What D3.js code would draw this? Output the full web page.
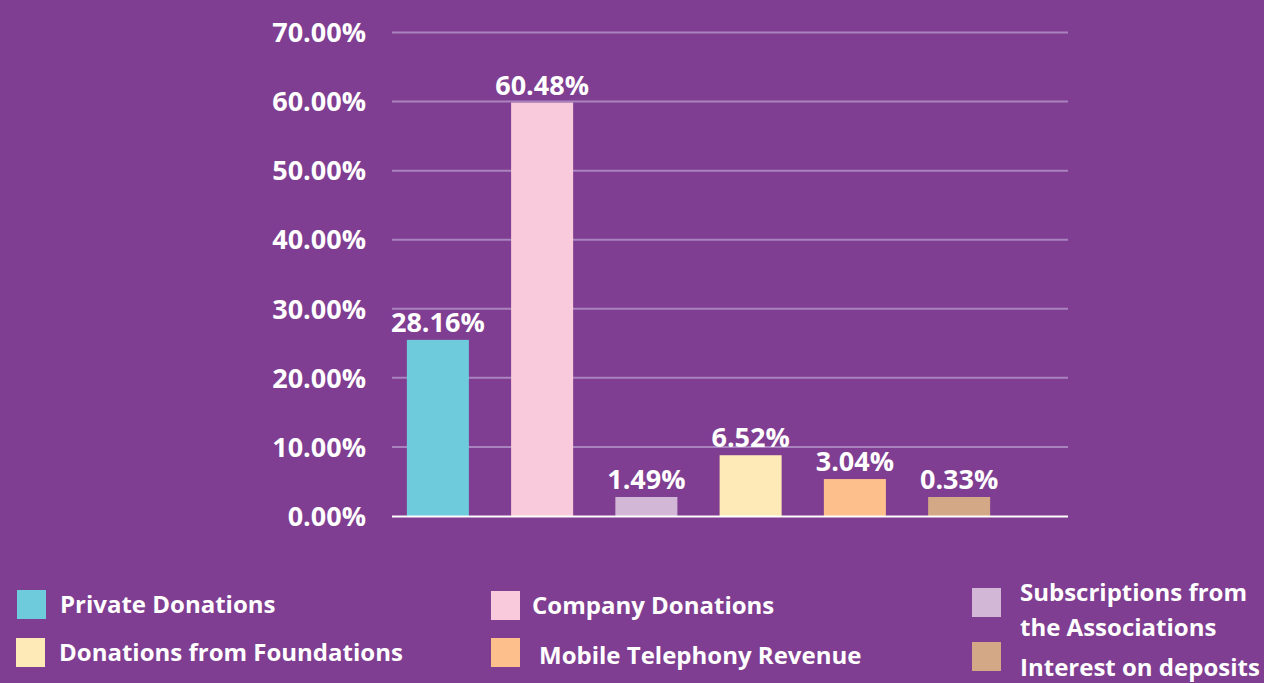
<!DOCTYPE html>
<html lang="en">
<head>
<meta charset="utf-8">
<title>income sources</title>
<script src="https://cdnjs.cloudflare.com/ajax/libs/d3/7.8.5/d3.min.js"></script>
<style>
  body { margin: 0; background: #7f3e91; }
  svg { display: block; font-family: "Open Sans", sans-serif; font-weight: bold; }
</style>
</head>
<body>
<script>
// data
var categories = ["Private Donations", "Company Donations", "Subscriptions from the Associations",
                  "Donations from Foundations", "Mobile Telephony Revenue", "Interest on deposits"];
// bar heights as drawn (the picture's bars don't follow their labels exactly)
var barValues = [25.5, 59.85, 2.75, 8.8, 5.35, 2.75];
var valueLabels = ["28.16%", "60.48%", "1.49%", "6.52%", "3.04%", "0.33%"];
var colors = ["#6ecbdb", "#f9cadb", "#d2b8d6", "#feeab7", "#fdc08c", "#d3a886"];
var yTicks = [0, 10, 20, 30, 40, 50, 60, 70];

var w = 1264, h = 683;
var plotLeft = 392, plotRight = 1068;

var svg = d3.select("body").append("svg")
  .attr("width", w)
  .attr("height", h);

var y = d3.scaleLinear().domain([0, 70]).range([516, 32.5]);
var x = d3.scaleBand().domain(categories).range([386, 1011]).paddingInner(0.405).paddingOuter(0.2);

// gridlines
svg.selectAll(".grid")
  .data(yTicks.slice(1))
  .enter().append("line")
  .attr("x1", plotLeft).attr("x2", plotRight)
  .attr("y1", function(d) { return y(d); })
  .attr("y2", function(d) { return y(d); })
  .attr("stroke", "#a983be")
  .attr("stroke-width", 2);

// y tick labels
svg.selectAll(".ytick")
  .data(yTicks)
  .enter().append("text")
  .attr("x", 366)
  .attr("y", function(d) { return y(d); })
  .attr("dy", "0.36em")
  .attr("text-anchor", "end")
  .attr("fill", "white")
  .attr("font-size", 27)
  .text(function(d) { return d.toFixed(2) + "%"; });

// bars
svg.selectAll(".bar")
  .data(barValues)
  .enter().append("rect")
  .attr("x", function(d, i) { return x(categories[i]); })
  .attr("width", x.bandwidth())
  .attr("y", function(d) { return y(d); })
  .attr("height", function(d) { return y(0) - y(d); })
  .attr("fill", function(d, i) { return colors[i]; });

// value labels
svg.selectAll(".val")
  .data(barValues)
  .enter().append("text")
  .attr("x", function(d, i) { return x(categories[i]) + x.bandwidth() / 2; })
  .attr("y", function(d) { return y(d) - 8; })
  .attr("text-anchor", "middle")
  .attr("fill", "white")
  .attr("font-size", 27)
  .text(function(d, i) { return valueLabels[i]; });

// baseline
svg.append("line")
  .attr("x1", plotLeft).attr("x2", plotRight)
  .attr("y1", y(0) + 0.5).attr("y2", y(0) + 0.5)
  .attr("stroke", "white")
  .attr("stroke-width", 2);

// legend, laid out like the original
var legendPos = [
  { sx: 17, sy: 590, tx: 60, lines: [613] },
  { sx: 491, sy: 591, tx: 532, lines: [614] },
  { sx: 972, sy: 588, tx: 1020, lines: [601, 636] },
  { sx: 16, sy: 638, tx: 59, lines: [661] },
  { sx: 491, sy: 638, tx: 539, lines: [664] },
  { sx: 972, sy: 642, tx: 1020, lines: [676] }
];
var legendText = [["Private Donations"], ["Company Donations"], ["Subscriptions from", "the Associations"],
                  ["Donations from Foundations"], ["Mobile Telephony Revenue"], ["Interest on deposits"]];

var leg = svg.selectAll(".legend")
  .data(legendPos)
  .enter().append("g");

leg.append("rect")
  .attr("x", function(d) { return d.sx; })
  .attr("y", function(d) { return d.sy; })
  .attr("width", 29).attr("height", 29)
  .attr("fill", function(d, i) { return colors[i]; });

leg.each(function(d, i) {
  var g = d3.select(this);
  legendText[i].forEach(function(t, j) {
    g.append("text")
      .attr("x", d.tx)
      .attr("y", d.lines[j])
      .attr("fill", "white")
      .attr("font-size", 24)
      .text(t);
  });
});
</script>
</body>
</html>
